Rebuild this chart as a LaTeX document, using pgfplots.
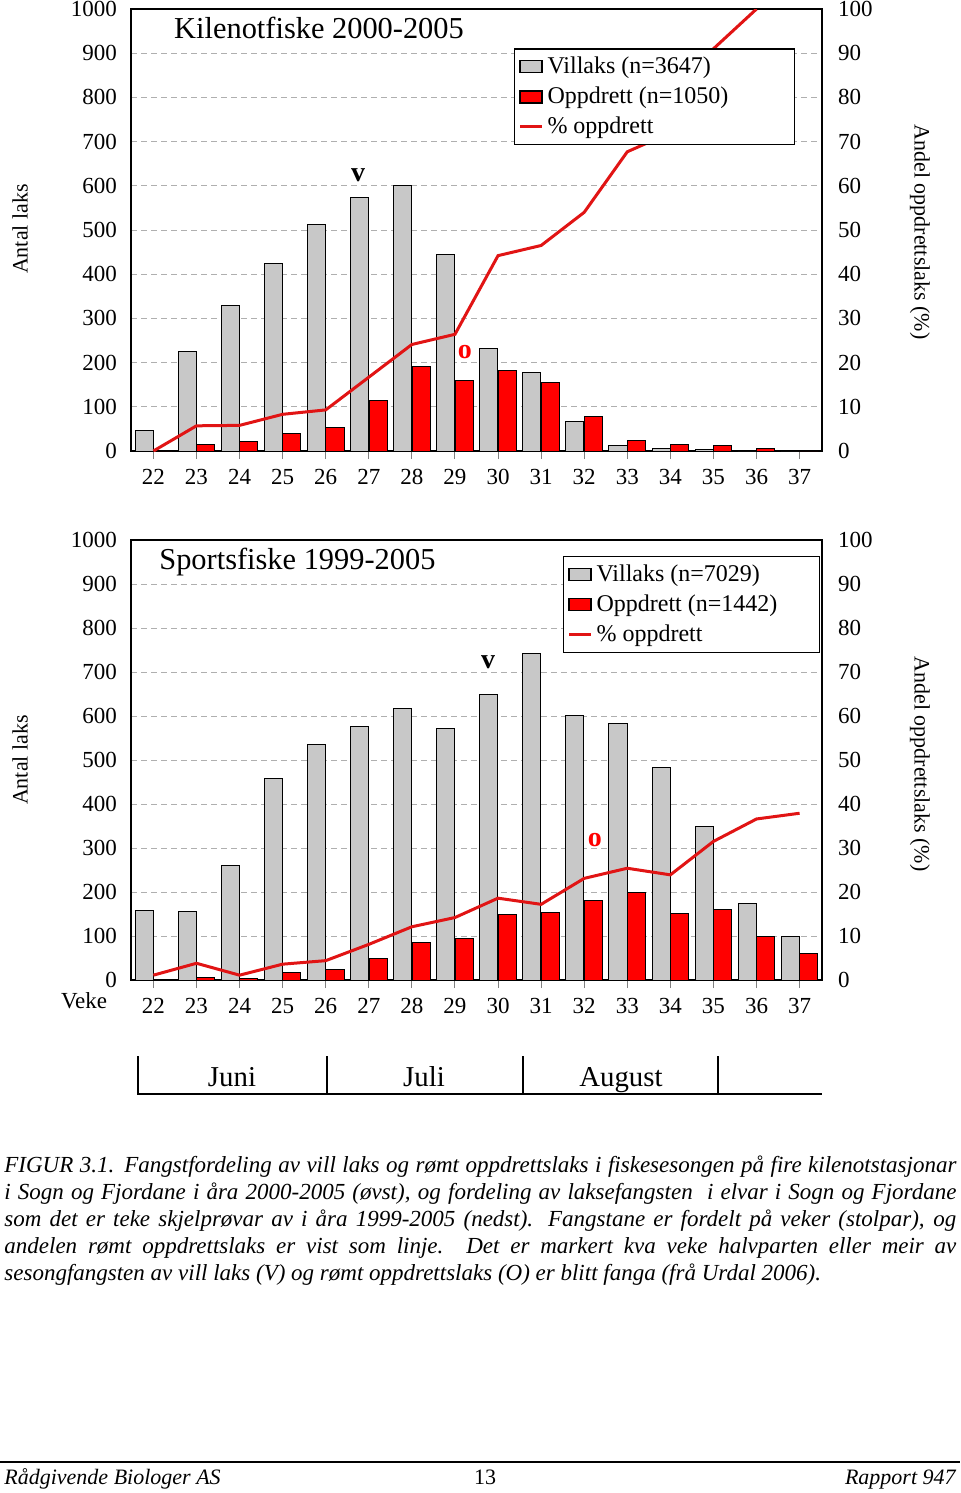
\documentclass[border=0pt]{standalone}
\usepackage{fontspec}
\setmainfont{Liberation Serif}
\usepackage{pgfplots}
\pgfplotsset{compat=1.18}
\definecolor{barGrey}{RGB}{200,200,200}
\definecolor{barRed}{RGB}{255,0,0}
\definecolor{lineRed}{RGB}{225,20,20}
\definecolor{gridGrey}{RGB}{175,175,175}

\pgfplotsset{
  base/.style={
    scale only axis, width=345.5pt,
    xmin=21.48, xmax=37.52,
    /pgf/number format/assume math mode=true,
    /pgf/number format/1000 sep={},
    tick label style={font=\fontsize{11.5}{13}\selectfont},
    axis line style={line width=0.8pt},
  },
  leftax/.style={base, ymin=0, ymax=1000, ytick={0,100,...,1000},
    xtick={22,...,37}, xtick pos=bottom, tick align=outside,
    major tick length=4pt, xtick style={draw=gray, line width=0.5pt},
    ytick style={draw=none}, ytick pos=left,
    ymajorgrids, grid style={gridGrey, dash pattern=on 3pt off 2pt, line width=0.5pt},
    yticklabel style={xshift=0.5pt},
    xticklabel style={yshift=-1.5pt},
  },
  rightax/.style={base, ymin=0, ymax=100, ytick={0,10,...,100},
    axis x line=none, axis y line*=right, ytick style={draw=none},
    yticklabel style={xshift=4.5pt},
    legend cell align=left,
  },
  greybar/.style={ybar, bar width=0.42, bar shift=-0.215, fill=barGrey, draw=black, line width=0.5pt},
  redbar/.style={ybar, bar width=0.42, bar shift=0.215, fill=barRed, draw=black, line width=0.5pt},
  barleg/.style={legend image code/.code={\draw[##1, draw=black, line width=0.6pt] (0pt,-3pt) rectangle (11pt,3pt);}},
  pline/.style={lineRed, line width=1.5pt, mark=none,
    legend image code/.code={\draw[##1] (0pt,0pt) -- (11pt,0pt);}},
  legsty/.style={legend style={draw=black, line width=0.7pt, fill=white,
    font=\fontsize{12}{14}\selectfont, row sep=1.2pt, inner sep=2pt,
    cells={anchor=west}}},
}

\begin{document}
\begin{tikzpicture}
\useasboundingbox (0,0) rectangle (480pt,-746.5pt);

% ---------------- top chart ----------------
\begin{axis}[leftax, height=221pt, at={(65.5pt,-225.5pt)}, anchor=south west]
\addplot[greybar] coordinates {(22,46) (23,225) (24,329) (25,425) (26,513) (27,574) (28,601) (29,445) (30,231) (31,178) (32,67) (33,12) (34,6) (35,3) (36,0) (37,0)};
\addplot[redbar] coordinates {(22,0) (23,15) (24,21) (25,39) (26,53) (27,115) (28,191) (29,159) (30,183) (31,155) (32,79) (33,24) (34,15) (35,12) (36,5) (37,0)};
\node[anchor=west, inner sep=0pt, font=\fontsize{15.2}{17}\selectfont] at (rel axis cs:0.062,0.957) {Kilenotfiske 2000-2005};
\node[font=\bfseries\fontsize{14}{16}\selectfont] at (axis cs:26.75,624) {v};
\node[font=\bfseries\fontsize{14}{16}\selectfont, text=barRed] at (axis cs:29.23,224) {o};
\end{axis}
\begin{axis}[rightax, height=221pt, at={(65.5pt,-225.5pt)}, anchor=south west, legsty,
  legend style={at={(0.554,0.911)}, anchor=north west}]
\addlegendimage{barleg, fill=barGrey}
\addlegendentry{\makebox[119.5pt][l]{Villaks (n=3647)}}
\addlegendimage{barleg, fill=barRed}
\addlegendentry{\makebox[119.5pt][l]{Oppdrett (n=1050)}}
\addplot[pline] coordinates {(22,0) (23,5.7) (24,5.8) (25,8.3) (26,9.3) (27,16.7) (28,24.1) (29,26.4) (30,44.2) (31,46.5) (32,54.0) (33,67.7) (34,72) (35,91) (36,100)};
\addlegendentry{\makebox[119.5pt][l]{\% oppdrett}}
\end{axis}

% ---------------- bottom chart ----------------
\begin{axis}[leftax, height=220pt, at={(65.5pt,-490pt)}, anchor=south west]
\addplot[greybar] coordinates {(22,159) (23,156) (24,260) (25,459) (26,536) (27,577) (28,618) (29,571) (30,648) (31,742) (32,601) (33,583) (34,483) (35,350) (36,175) (37,100)};
\addplot[redbar] coordinates {(22,2) (23,5) (24,3) (25,17) (26,24) (27,50) (28,85) (29,95) (30,148) (31,154) (32,181) (33,200) (34,151) (35,160) (36,100) (37,60)};
\node[anchor=west, inner sep=0pt, font=\fontsize{15.2}{17}\selectfont] at (rel axis cs:0.0405,0.95) {Sportsfiske 1999-2005};
\node[font=\bfseries\fontsize{14}{16}\selectfont] at (axis cs:29.77,723) {v};
\node[font=\bfseries\fontsize{14}{16}\selectfont, text=barRed] at (axis cs:32.25,318) {o};
\end{axis}
\begin{axis}[rightax, height=220pt, at={(65.5pt,-490pt)}, anchor=south west, legsty,
  legend style={at={(0.625,0.9636)}, anchor=north west}]
\addlegendimage{barleg, fill=barGrey}
\addlegendentry{\makebox[107.5pt][l]{Villaks (n=7029)}}
\addlegendimage{barleg, fill=barRed}
\addlegendentry{\makebox[107.5pt][l]{Oppdrett (n=1442)}}
\addplot[pline] coordinates {(22,1.1) (23,3.8) (24,1.1) (25,3.6) (26,4.4) (27,8.1) (28,12.1) (29,14.2) (30,18.6) (31,17.2) (32,23.1) (33,25.4) (34,23.9) (35,31.5) (36,36.6) (37,37.9)};
\addlegendentry{\makebox[107.5pt][l]{\% oppdrett}}
\end{axis}

% axis titles
\node[rotate=90, font=\fontsize{11}{13}\selectfont] at (10pt,-114.5pt) {Antal laks};
\node[rotate=-90, font=\fontsize{11}{13}\selectfont] at (460pt,-116pt) {Andel oppdrettslaks (\%)};
\node[rotate=90, font=\fontsize{11}{13}\selectfont] at (10pt,-380pt) {Antal laks};
\node[rotate=-90, font=\fontsize{11}{13}\selectfont] at (460pt,-382pt) {Andel oppdrettslaks (\%)};
\node[font=\fontsize{11.5}{13}\selectfont] at (42pt,-500.5pt) {Veke};

% month table
\draw[line width=0.8pt] (69pt,-528pt) -- (69pt,-547pt) -- (411pt,-547pt);
\draw[line width=0.8pt] (163.5pt,-528pt) -- (163.5pt,-547pt);
\draw[line width=0.8pt] (261.5pt,-528pt) -- (261.5pt,-547pt);
\draw[line width=0.8pt] (359pt,-528pt) -- (359pt,-547pt);
\node[anchor=base, font=\fontsize{14.4}{16}\selectfont] at (116pt,-543pt) {Juni};
\node[anchor=base, font=\fontsize{14.4}{16}\selectfont] at (212pt,-543pt) {Juli};
\node[anchor=base, font=\fontsize{14.4}{16}\selectfont] at (310.5pt,-543pt) {August};

% caption
\begin{scope}[every node/.style={anchor=base west, inner sep=0pt, font=\itshape\fontsize{11.5}{13}\selectfont}]
\node at (2pt,-586pt) {\makebox[476pt][s]{FIGUR 3.1. Fangstfordeling av vill laks og rømt oppdrettslaks i fiskesesongen på fire kilenotstasjonar}};
\node at (2pt,-599.5pt) {\makebox[476pt][s]{i Sogn og Fjordane i åra 2000-2005 (øvst), og fordeling av laksefangsten\ \ i elvar i Sogn og Fjordane}};
\node at (2pt,-613pt) {\makebox[476pt][s]{som det er teke skjelprøvar av i åra 1999-2005 (nedst). Fangstane er fordelt på veker (stolpar), og}};
\node at (2pt,-626.5pt) {\makebox[476pt][s]{andelen rømt oppdrettslaks er vist som linje. Det er markert kva veke halvparten eller meir av}};
\node at (2pt,-640pt) {sesongfangsten av vill laks (V) og rømt oppdrettslaks (O) er blitt fanga (frå Urdal 2006).};
\end{scope}

% footer
\draw[line width=1pt] (0pt,-731pt) -- (480pt,-731pt);
\node[anchor=base west, inner sep=0pt, font=\itshape\fontsize{11}{13}\selectfont] at (2pt,-742pt) {Rådgivende Biologer AS};
\node[anchor=base, inner sep=0pt, font=\fontsize{11}{13}\selectfont] at (242.5pt,-742pt) {13};
\node[anchor=base east, inner sep=0pt, font=\itshape\fontsize{11}{13}\selectfont] at (478pt,-742pt) {Rapport 947};
\end{tikzpicture}
\end{document}
